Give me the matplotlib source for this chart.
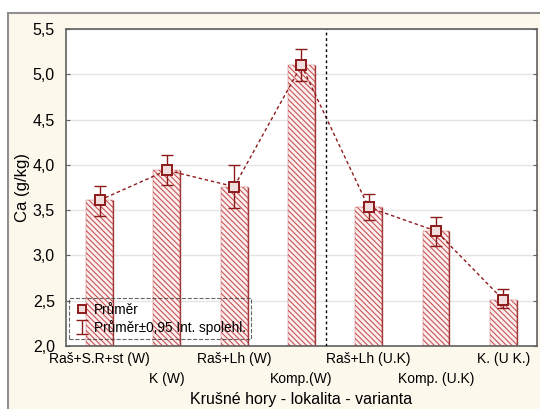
import numpy as np
import matplotlib.pyplot as plt
from matplotlib.patches import Rectangle
from matplotlib.lines import Line2D
from matplotlib.ticker import FuncFormatter

plt.rcParams['font.family'] = ['Liberation Sans', 'DejaVu Sans']
plt.rcParams['hatch.linewidth'] = 0.8

# Ca content per site / variant
categories = ['Raš+S.R+st (W)', 'K (W)', 'Raš+Lh (W)', 'Komp.(W)',
              'Raš+Lh (U.K)', 'Komp. (U.K)', 'K. (U K.)']
means = [3.61, 3.94, 3.76, 5.10, 3.53, 3.27, 2.51]
ci_low = [3.44, 3.78, 3.52, 4.93, 3.39, 3.10, 2.42]
ci_high = [3.77, 4.11, 4.00, 5.28, 3.68, 3.43, 2.63]

red = '#8e1b1b'
x = np.arange(len(categories))
bar_w = 0.4

fig = plt.figure(figsize=(5.4, 4.09), dpi=100)
fig.patch.set_facecolor('white')

# cream panel behind the plot
fig.patches.append(Rectangle((0.015, -0.01), 0.99, 0.978, transform=fig.transFigure,
                             facecolor='#fdf8ec', edgecolor='#909090', linewidth=1.5,
                             zorder=-10))

ax = fig.add_axes([0.1222, 0.154, 0.872, 0.775])
ax.set_facecolor('white')

ax.bar(x, np.array(means) - 2.0, bottom=2.0, width=bar_w, color='#fcefef',
       edgecolor='#c85555', linewidth=0.3, hatch='\\' * 6, zorder=2)
# darker right-hand edge of each bar
ax.vlines(x + bar_w / 2, 2.0, means, color='#a03a3a', linewidth=1.0, zorder=2)

ax.plot(x, means, linestyle=(0, (2.5, 2)), color=red, linewidth=1.0, zorder=3)
err = [np.array(means) - np.array(ci_low), np.array(ci_high) - np.array(means)]
ci_handle = ax.errorbar(x, means, yerr=err, fmt='none', ecolor=red, elinewidth=1.0,
                        capsize=4.5, capthick=1.0, zorder=4)
ax.plot(x, means, 's', markersize=6.5, markerfacecolor='#f3dede',
        markeredgecolor=red, markeredgewidth=1.4, zorder=5, linestyle='none')

ax.axvline(3.37, color='black', linestyle=(0, (2, 2)), linewidth=1.0, zorder=3)

ax.set_xlim(-0.5, 6.5)
ax.set_ylim(2.0, 5.5)
ax.set_yticks(np.arange(2.0, 5.51, 0.5))
ax.yaxis.set_major_formatter(FuncFormatter(lambda v, p: f'{v:.1f}'.replace('.', ',')))
ax.grid(axis='y', color='#e4e4e4', linewidth=1.0, zorder=0)
ax.set_axisbelow(True)

# staggered category labels: even ones on the first row, odd ones below
ax.set_xticks(x[::2])
ax.set_xticklabels(categories[::2], fontsize=10)
ax.set_xticks(x[1::2], minor=True)
ax.set_xticklabels(categories[1::2], minor=True, fontsize=10)
ax.tick_params(axis='x', which='major', direction='in', length=3, pad=4, color='#606060')
ax.tick_params(axis='x', which='minor', direction='in', length=3, pad=19, color='#606060')
ax.tick_params(axis='y', direction='in', length=3, labelsize=11.5, pad=8,
               right=True, color='#606060')

for s in ax.spines.values():
    s.set_color('#606060')
    s.set_linewidth(1.2)

ax.set_xlabel('Krušné hory - lokalita - varianta', fontsize=11.5, labelpad=4)
ax.set_ylabel('Ca (g/kg)', fontsize=12, labelpad=2)

mean_handle = Line2D([], [], marker='s', linestyle='none', markersize=6,
                     markerfacecolor='#f3dede', markeredgecolor=red, markeredgewidth=1.4)
leg = ax.legend([mean_handle, ci_handle], ['Průměr', 'Průměr±0,95 Int. spolehl.'],
                loc='lower left', bbox_to_anchor=(0.0, 0.012), fontsize=9.8,
                frameon=True, fancybox=False, handlelength=1.2, handletextpad=0.3,
                borderpad=0.35, labelspacing=0.2, borderaxespad=0.2)
frame = leg.get_frame()
frame.set_facecolor('none')
frame.set_edgecolor('#404040')
frame.set_linestyle('--')
frame.set_linewidth(0.8)

fig.savefig('out.png', dpi=100)
